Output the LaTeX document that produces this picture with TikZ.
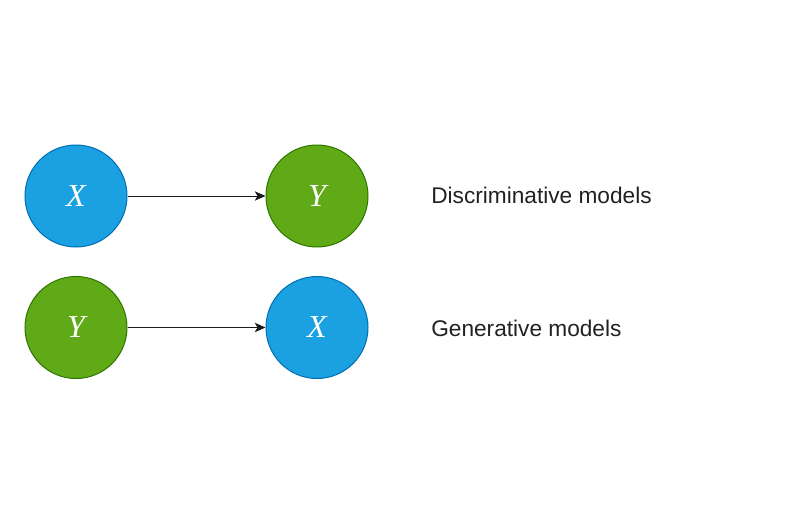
\documentclass[tikz,border=0pt]{standalone}
\usepackage{fontspec}
\setmainfont{Liberation Sans}
\newfontfamily\varfont{Liberation Serif}
\usetikzlibrary{arrows.meta}
\definecolor{bleu}{HTML}{1BA1E2}
\definecolor{bleutrait}{HTML}{006EAF}
\definecolor{vert}{HTML}{60A917}
\definecolor{verttrait}{HTML}{2D7600}
\definecolor{fleche}{HTML}{1A1A1A}
\begin{document}
\begin{tikzpicture}[x=0.75pt, y=-0.75pt,
        varx/.style={circle, draw=bleutrait, fill=bleu, line width=0.75pt, minimum size=76.5pt, inner sep=0pt, text=white, font=\varfont\itshape\fontsize{24}{24}\selectfont},
        vary/.style={varx, draw=verttrait, fill=vert},
        titre/.style={anchor=west, inner sep=0pt, text=black!87, font=\fontsize{17}{17}\selectfont},
        lien/.style={-{Stealth[length=8pt, width=7pt, inset=2pt]}, draw=fleche, line width=0.75pt}]
        \useasboundingbox (0, 0) rectangle (800, 510);

        \node[varx] (X1) at (76, 196) {X};
        \node[vary] (Y1) at (317, 196) {Y};
        \node[titre] (D) at (431, 195) {Discriminative models};

        \node[vary] (Y2) at (76, 327.5) {Y};
        \node[varx] (X2) at (317, 327.5) {X};
        \node[titre] (G) at (431, 328) {Generative models};

        \draw[lien] (X1) to (Y1);
        \draw[lien] (Y2) to (X2);
    \end{tikzpicture}
\end{document}
